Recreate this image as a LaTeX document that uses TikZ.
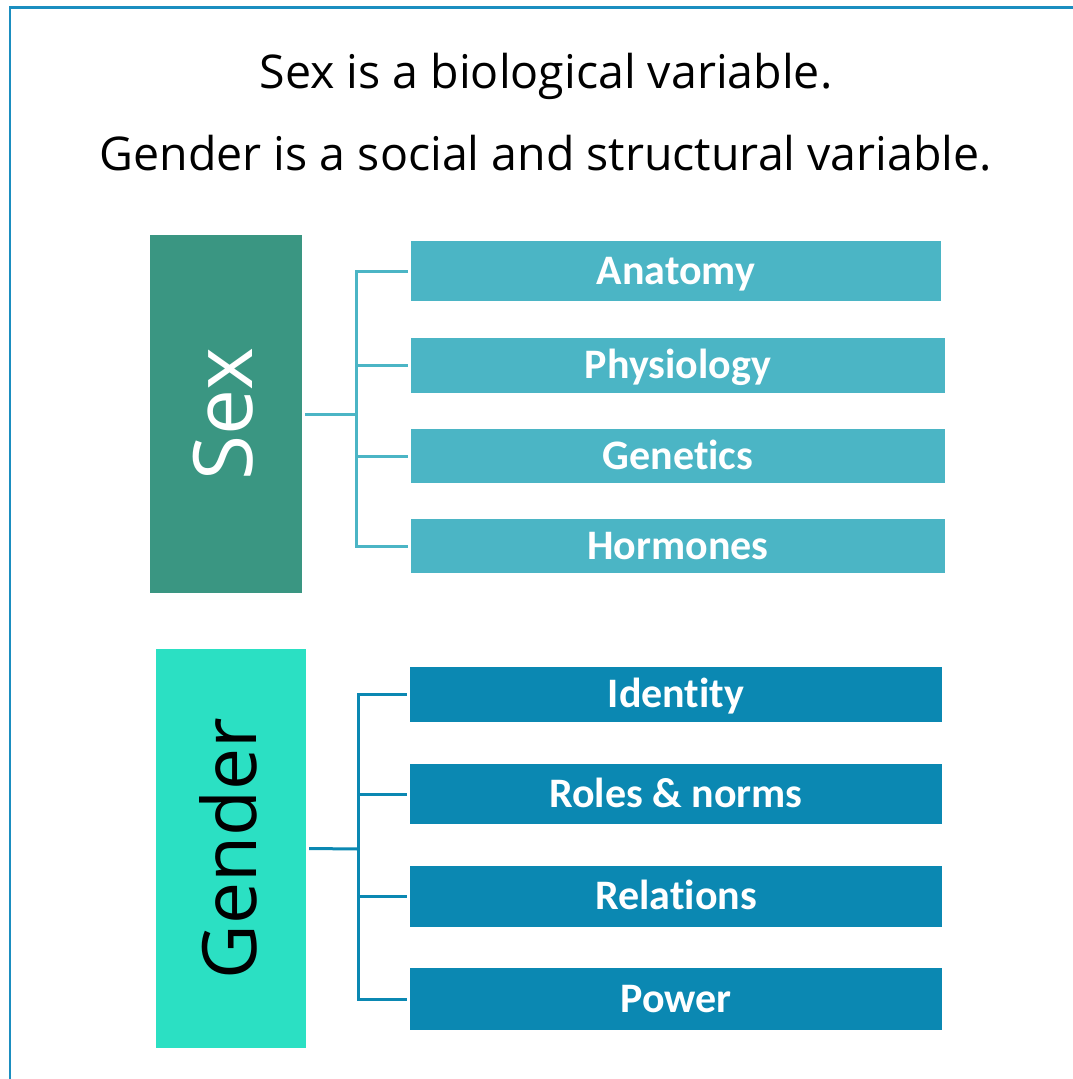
\documentclass[tikz,border=0pt]{standalone}
\usepackage{fontspec}
\setmainfont{Open Sans}
\newfontfamily\itemfont[Ligatures=NoCommon]{Carlito}
\definecolor{framec}{HTML}{1B8EC0}
\definecolor{sexc}{HTML}{3A9682}
\definecolor{genc}{HTML}{2BE0C3}
\definecolor{sexitem}{HTML}{4BB5C5}
\definecolor{genitem}{HTML}{0B88B2}
\begin{document}
\begin{tikzpicture}[x=1pt,y=-1pt,
  bigbox/.style={rectangle,inner sep=0pt,anchor=center},
  itembox/.style={rectangle,inner sep=0pt,text=white,text height=26.5pt,text depth=0pt,font=\itemfont\bfseries\fontsize{42}{45}\selectfont},
  sconn/.style={draw=sexitem,line width=3pt},
  gconn/.style={draw=genitem,line width=3pt}]
\useasboundingbox (0,0) rectangle (1073,1079);
\fill[white] (0,0) rectangle (1073,1079);
\draw[framec,line width=2.5pt] (10,1100) -- (10,7.5) -- (1100,7.5);
\node (t1) at (546,76) {\fontsize{46.5}{50}\selectfont Sex is a biological variable.};
\node (t2) at (546,153) {\fontsize{46.5}{50}\selectfont Gender is a social and structural variable.};
% Sex
\node[bigbox,fill=sexc,minimum width=152pt,minimum height=358pt] (sex) at (226,414) {};
\node[rotate=90,text=white,font=\fontsize{82}{90}\selectfont] (sext) at ([xshift=-3pt]sex.center) {Sex};
\node[itembox,fill=sexitem,minimum width=530pt,minimum height=60pt] (anat) at (676,271) {Anatomy};
\node[itembox,fill=sexitem,minimum width=534pt,minimum height=55pt] (phys) at (678,365.5) {Physiology};
\node[itembox,fill=sexitem,minimum width=534pt,minimum height=54pt] (gene) at (678,456) {Genetics};
\node[itembox,fill=sexitem,minimum width=534pt,minimum height=54pt] (horm) at (678,546) {Hormones};
\coordinate (sj) at (356,414);
\draw[sconn] ([xshift=3pt]sex.east) -- (sj);
\foreach \n in {anat,phys,gene,horm}{\draw[sconn] (sj) |- ([xshift=-3pt]\n.west);}
% Gender
\node[bigbox,fill=genc,minimum width=150pt,minimum height=399pt] (gen) at (231,848.5) {};
\node[rotate=90,text=black,font=\fontsize{75}{82}\selectfont] (gent) at ([xshift=-3pt]gen.center) {Gender};
\node[itembox,fill=genitem,minimum width=532pt,minimum height=55pt] (iden) at (676,694.5) {Identity};
\node[itembox,fill=genitem,minimum width=532pt,minimum height=60pt] (role) at (676,794) {Roles \& norms};
\node[itembox,fill=genitem,minimum width=532pt,minimum height=61pt] (rela) at (676,896.5) {Relations};
\node[itembox,fill=genitem,minimum width=532pt,minimum height=62pt] (powe) at (676,999) {Power};
\coordinate (gj) at (358,849);
\draw[gconn] ([xshift=3pt]gen.east) -- (gj);
\foreach \n in {iden,role,rela,powe}{\draw[gconn] (gj) |- ([xshift=-3pt]\n.west);}
\end{tikzpicture}
\end{document}
